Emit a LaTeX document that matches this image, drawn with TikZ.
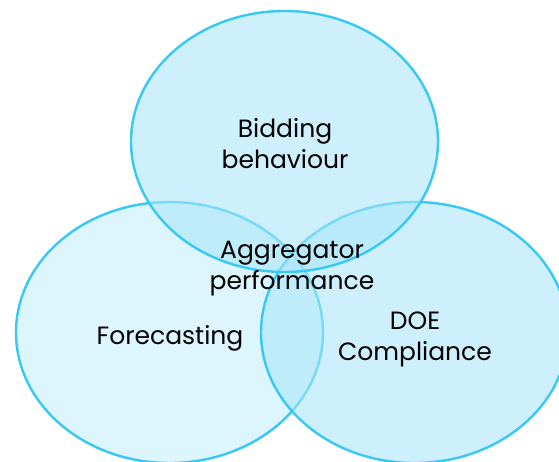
\documentclass[tikz,border=0pt]{standalone}
\usepackage{fontspec}
\setmainfont{Poppins}
\usetikzlibrary{shapes.geometric}
\definecolor{ringline}{RGB}{56,200,245}
\definecolor{ringfill}{RGB}{169,229,250}
\tikzset{
  ring/.style={ellipse, draw=ringline, line width=2.4pt, fill=ringfill,
    fill opacity=0.57, draw opacity=1, text opacity=1,
    minimum width=307pt, minimum height=261pt, inner sep=0pt},
  lbl/.style={align=center, font=\fontsize{25}{31}\selectfont, text=black}
}
\begin{document}
\begin{tikzpicture}[x=1pt,y=-1pt]
\clip (0,0) rectangle (559,462);
\node[ring, fill opacity=0.4] (left) at (169.5,332.5) {};
\node[ring] (right) at (414.5,332.5) {};
\node[ring] (top) at (284.5,141.5) {};
\node[lbl] (tl) at (285,144) {Bidding\\behaviour};
\node[lbl] (ll) at (170,338) {Forecasting};
\node[lbl] (rl) at (415,339) {DOE\\Compliance};
\node[lbl] (cl) at (292,269) {Aggregator\\performance};
\end{tikzpicture}
\end{document}
